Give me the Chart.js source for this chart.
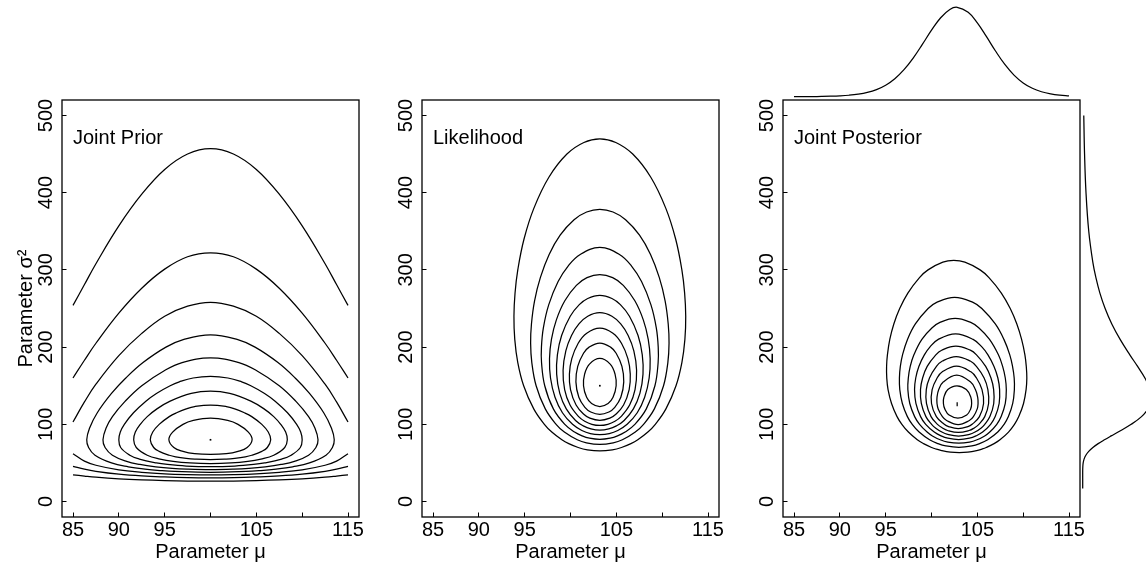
<!DOCTYPE html>
<html><head><meta charset="utf-8">
<script src="https://cdn.jsdelivr.net/npm/chart.js@4.4.1/dist/chart.umd.min.js"></script>
<style>
html,body{margin:0;padding:0;background:#fff;}
#wrap{position:relative;width:1146px;height:569px;overflow:hidden;background:#fff;}
#wrap canvas{position:absolute;left:0;top:0;}
</style></head><body>
<div id="wrap">
<canvas id="cPrior" width="1146" height="569"></canvas>
<canvas id="cLik" width="1146" height="569"></canvas>
<canvas id="cPost" width="1146" height="569"></canvas>
<canvas id="cMargMu" width="1146" height="569"></canvas>
<canvas id="cMargS2" width="1146" height="569"></canvas>
</div>
<script>
// ---------------- tick values / labels ----------------
const muTicks = [85, 90, 95, 100, 105, 110, 115];
const muTickLabels = ['85', '90', '95', '', '105', '', '115'];
const s2Ticks = [0, 100, 200, 300, 400, 500];
const s2TickLabels = ['0', '100', '200', '300', '400', '500'];
const panelTitles = ['Joint Prior', 'Likelihood', 'Joint Posterior'];

// ---------------- Joint prior contours [mu, sigma^2] ----------------
const priorC1Upper = [[85,254],[86.25,281],[87.5,308],[90,357],[92.5,398],[95,430],[97.5,450],[100,457],[102.5,450],[105,430],[107.5,398],[110,357],[112.5,308],[113.75,281],[115,254]];
const priorC1Lower = [[85,34.7],[86.25,33],[87.5,31.5],[90,29.4],[92.5,28.0],[95,27.1],[97.5,26.6],[100,26.5],[102.5,26.6],[105,27.1],[107.5,28.0],[110,29.4],[112.5,31.5],[113.75,33],[115,34.7]];
const priorC2Upper = [[85,160],[86.25,183],[87.5,205],[90,244],[92.5,276.3],[95,301],[97.5,317],[100,322],[102.5,317],[105,301],[107.5,276.3],[110,244],[112.5,205],[113.75,183],[115,160]];
const priorC2Lower = [[85,45.5],[86.25,41.9],[87.5,39.2],[90,35.5],[92.5,33.2],[95,31.9],[97.5,31.05],[100,30.8],[102.5,31.05],[105,31.9],[107.5,33.2],[110,35.5],[112.5,39.2],[113.75,41.9],[115,45.5]];
const priorC3Upper = [[85,103],[86.25,129],[87.5,152],[90,189],[92.5,217.8],[95,240],[97.5,253],[100,258],[102.5,253],[105,240],[107.5,217.8],[110,189],[112.5,152],[113.75,129],[115,103]];
const priorC3Lower = [[85,62],[86.25,52.3],[87.5,47],[90,41],[92.5,37.8],[95,35.8],[97.5,34.8],[100,34.4],[102.5,34.8],[105,35.8],[107.5,37.8],[110,41],[112.5,47],[113.75,52.3],[115,62]];
const priorC4 = [[100,37.9],[103.9,39],[105.3,40],[107.15,42],[108.96,45],[110.8,50],[112.6,60],[113.3,70],[113.5,80],[113.2,95],[112.35,115],[110.8,140],[109.24,160],[107.36,180],[104.86,200],[102.9,210],[100,216],[97.1,210],[95.14,200],[92.64,180],[90.76,160],[89.2,140],[87.65,115],[86.8,95],[86.5,80],[86.7,70],[87.4,60],[89.2,50],[91.04,45],[92.85,42],[94.7,40],[96.1,39]];
const priorC5 = [[100,41.4],[102.55,42],[104.19,43],[105.97,45],[107.7,48],[109.15,52],[110.7,60],[111.5,70],[111.73,80],[111.4,95],[110.7,110],[109.3,130],[107.5,150],[104.96,170],[103.1,180],[100,186],[96.9,180],[95.04,170],[92.5,150],[90.7,130],[89.3,110],[88.6,95],[88.27,80],[88.5,70],[89.3,60],[90.85,52],[92.3,48],[94.03,45],[95.81,43],[97.45,42]];
const priorC6 = [[100,45.2],[102.65,46],[104.7,48],[105.9,50],[107.76,55],[108.8,60],[109.8,70],[110,80],[109.84,90],[109.4,100],[108.4,115],[107.05,130],[105.9,140],[104.4,150],[103.4,155],[101.9,160],[100,162],[98.1,160],[96.6,155],[95.6,150],[94.1,140],[92.95,130],[91.6,115],[90.6,100],[90.16,90],[90,80],[90.2,70],[91.2,60],[92.24,55],[94.1,50],[95.3,48],[97.35,46]];
const priorC7 = [[100,49.2],[102.24,50],[104.07,52],[105.5,55],[106.9,60],[108.1,70],[108.38,80],[108.2,90],[107.66,100],[106.9,110],[105.84,120],[104.4,130],[102.1,140],[100,143],[97.9,140],[95.6,130],[94.16,120],[93.1,110],[92.34,100],[91.8,90],[91.62,80],[91.9,70],[93.1,60],[94.5,55],[95.93,52],[97.76,50]];
const priorC8 = [[100,54.3],[101.7,55],[102.65,56],[103.8,58],[104.5,60],[105.6,65],[106.2,70],[106.57,80],[106.3,90],[105.6,100],[104.5,110],[103.7,115],[102.65,120],[101.73,123],[100,125],[98.27,123],[97.35,120],[96.3,115],[95.5,110],[94.4,100],[93.7,90],[93.43,80],[93.8,70],[94.4,65],[95.5,60],[96.2,58],[97.35,56],[98.3,55]];
const priorC9 = [[100,61],[101.73,62],[103,65],[104,70],[104.54,80],[104.13,90],[103,100],[101.87,105],[100,108],[98.13,105],[97,100],[95.87,90],[95.46,80],[96,70],[97,65],[98.27,62]];
const priorMode = [[100,80]];

// ---------------- Likelihood contours ----------------
const lik1 = [[103.2,65.6],[104.56,67],[105.56,70],[106.59,75],[107.34,80],[108.44,90],[109.25,100],[110.41,120],[111.51,150],[112.15,180],[112.48,210],[112.57,240],[112.45,270],[112.15,300],[111.47,340],[110.39,380],[108.76,420],[106.79,450],[104.94,465],[103.2,469.7],[101.46,465],[99.61,450],[97.64,420],[96.01,380],[94.93,340],[94.25,300],[93.95,270],[93.83,240],[93.92,210],[94.25,180],[94.89,150],[95.99,120],[97.15,100],[97.96,90],[99.06,80],[99.81,75],[100.84,70],[101.84,67]];
const lik2 = [[103.2,73.9],[104.66,76],[105.66,80],[107.07,90],[107.97,100],[109.15,120],[110.15,150],[110.62,180],[110.75,205],[110.66,230],[110.32,260],[109.69,290],[108.73,320],[107.53,345],[106.01,365],[104.64,375],[103.2,378.5],[101.76,375],[100.39,365],[98.87,345],[97.67,320],[96.71,290],[96.08,260],[95.74,230],[95.65,205],[95.78,180],[96.25,150],[97.25,120],[98.43,100],[99.33,90],[100.74,80],[101.74,76]];
const lik3 = [[103.2,80.5],[104.33,82],[105.13,85],[105.96,90],[107.02,100],[108.27,120],[109.21,150],[109.56,180],[109.57,200],[109.36,225],[108.77,255],[107.75,285],[106.66,305],[105.34,320],[103.2,329],[101.06,320],[99.74,305],[98.65,285],[97.63,255],[97.04,225],[96.83,200],[96.84,180],[97.19,150],[98.13,120],[99.38,100],[100.44,90],[101.27,85],[102.07,82]];
const lik4 = [[103.2,86.8],[104.23,88],[105.16,92],[106.18,100],[107.28,115],[108.09,135],[108.58,160],[108.69,185],[108.48,210],[107.95,235],[107.02,260],[105.76,280],[104.6,290],[103.2,294],[101.8,290],[100.64,280],[99.38,260],[98.45,235],[97.92,210],[97.71,185],[97.82,160],[98.31,135],[99.12,115],[100.22,100],[101.24,92],[102.17,88]];
const lik5 = [[103.2,92.4],[104.17,94],[105.01,98],[105.85,105],[106.86,120],[107.57,140],[107.91,165],[107.83,190],[107.37,215],[106.43,240],[105.44,255],[104.52,263],[103.2,267],[101.88,263],[100.96,255],[99.97,240],[99.03,215],[98.57,190],[98.49,165],[98.83,140],[99.54,120],[100.55,105],[101.39,98],[102.23,94]];
const lik6 = [[103.2,98.5],[104.07,100],[104.85,104],[105.51,110],[106.45,125],[107.04,145],[107.21,170],[106.91,195],[106.29,215],[105.48,230],[104.52,240],[103.2,244.5],[101.88,240],[100.92,230],[100.11,215],[99.49,195],[99.19,170],[99.36,145],[99.95,125],[100.89,110],[101.55,104],[102.33,100]];
const lik7 = [[103.2,105.2],[104.29,108],[104.95,113],[105.79,125],[106.4,145],[106.52,165],[106.26,185],[105.56,205],[104.63,218],[103.2,224.5],[101.77,218],[100.84,205],[100.14,185],[99.88,165],[100.0,145],[100.61,125],[101.45,113],[102.11,108]];
const lik8 = [[103.2,112.9],[104.19,116],[104.83,122],[105.49,135],[105.81,155],[105.61,175],[104.98,192],[104.37,200],[103.2,205.3],[102.03,200],[101.42,192],[100.79,175],[100.59,155],[100.91,135],[101.57,122],[102.21,116]];
const lik9 = [[103.2,123],[104.1,127],[104.64,135],[104.98,150],[104.86,165],[104.33,178],[103.2,185.3],[102.07,178],[101.54,165],[101.42,150],[101.76,135],[102.3,127]];
const likMode = [[103.2,150]];

// ---------------- Joint posterior contours ----------------
const post1 = [[103.03,63.4],[103.96,64],[104.92,66],[105.51,68],[105.97,70],[106.83,75],[107.47,80],[108.40,90],[109.05,100],[109.52,110],[110.04,127],[110.32,145],[110.40,160],[110.34,175],[110.19,190],[109.83,210],[109.31,230],[108.59,250],[107.62,270],[106.27,290],[105.30,300],[103.64,310],[102.43,312.2],[101.24,310],[99.62,300],[98.69,290],[97.42,270],[96.53,250],[95.89,230],[95.45,210],[95.19,190],[95.10,175],[95.12,160],[95.26,145],[95.64,127],[96.24,110],[96.77,100],[97.48,90],[98.45,80],[99.13,75],[100.02,70],[100.49,68],[101.10,66],[102.06,64]];
const post2 = [[102.99,70.2],[104.41,72],[105.25,75],[106.13,80],[107.23,90],[107.92,100],[108.39,110],[108.86,127],[109.04,145],[109.02,160],[108.84,175],[108.54,190],[107.90,210],[106.96,230],[105.49,250],[104.53,258],[102.52,264.5],[100.56,258],[99.63,250],[98.24,230],[97.38,210],[96.84,190],[96.60,175],[96.50,160],[96.54,145],[96.82,127],[97.37,110],[97.90,100],[98.65,90],[99.79,80],[100.71,75],[101.57,72]];
const post3 = [[102.98,75.6],[104.15,77],[104.97,80],[105.80,85],[106.36,90],[107.12,100],[107.60,110],[108.05,127],[108.16,145],[108.05,160],[107.76,175],[107.30,190],[106.33,210],[105.15,225],[104.28,232],[102.58,237.1],[100.92,232],[100.07,225],[98.95,210],[98.08,190],[97.68,175],[97.47,160],[97.42,145],[97.63,127],[98.16,110],[98.70,100],[99.52,90],[100.10,85],[100.95,80],[101.79,77]];
const post4 = [[102.96,80.3],[104.14,82],[104.85,85],[105.58,90],[106.45,100],[106.95,110],[107.38,127],[107.43,145],[107.24,160],[106.82,175],[106.16,190],[105.52,200],[104.54,210],[102.63,217.2],[100.74,210],[99.82,200],[99.22,190],[98.62,175],[98.28,160],[98.15,145],[98.30,127],[98.81,110],[99.37,100],[100.30,90],[101.05,85],[101.78,82]];
const post5 = [[102.95,84.85],[104.14,87],[104.75,90],[105.39,95],[105.81,100],[106.37,110],[106.79,127],[106.78,145],[106.49,160],[105.91,175],[104.91,190],[104.23,196],[102.66,201.3],[101.11,196],[100.47,190],[99.53,175],[99.03,160],[98.80,145],[98.89,127],[99.39,110],[100.01,100],[100.47,95],[101.13,90],[101.76,87]];
const post6 = [[102.93,89.6],[104.10,92],[104.62,95],[105.17,100],[105.81,110],[106.23,127],[106.15,145],[105.74,160],[104.90,175],[104.23,182],[102.69,187.7],[101.19,182],[100.54,175],[99.78,160],[99.43,145],[99.45,127],[99.95,110],[100.65,100],[101.22,95],[101.76,92]];
const post7 = [[102.92,94.6],[103.97,97],[104.43,100],[105.23,110],[105.68,127],[105.51,145],[104.91,160],[104.30,168],[102.72,175.4],[101.18,168],[100.61,160],[100.07,145],[100.00,127],[100.53,110],[101.39,100],[101.87,97]];
const post8 = [[102.91,99.7],[104.13,105],[104.57,110],[104.99,120],[105.08,127],[105.04,135],[104.79,145],[104.24,155],[102.75,163.7],[101.30,155],[100.79,145],[100.60,135],[100.60,127],[100.73,120],[101.19,110],[101.65,105]];
const post9 = [[102.88,108.2],[103.84,112],[104.27,120],[104.38,127],[104.29,135],[103.80,145],[102.78,149.9],[101.78,145],[101.35,135],[101.30,127],[101.45,120],[101.92,112]];
const postMode = [[102.8,123.5],[102.8,128.7]];

// ---------------- Marginal posteriors (relative density) ----------------
const margMuValues = [85,86,87,88,89,90,91,92,93,94,95,96,97,98,99,100,101,102,102.8,104,105,106,107,108,109,110,111,112,113,114,115];
const margMuDensity = [0.0005,0.0009,0.0016,0.0029,0.0052,0.0092,0.0162,0.0282,0.0479,0.0797,0.1287,0.2013,0.3021,0.4317,0.5844,0.7438,0.8834,0.9758,1.0,0.9443,0.8267,0.6715,0.5083,0.3608,0.2417,0.1540,0.0939,0.0551,0.0315,0.0175,0.0095];
const margS2Values = [17,30,40,45,50,55,60,65,70,75,80,85,90,100,110,120,127,135,145,160,175,190,210,230,250,270,290,310,350,400,450,500];
const margS2Density = [0,0,0.0001,0.0018,0.0069,0.0199,0.0456,0.0877,0.148,0.225,0.316,0.414,0.515,0.705,0.855,0.950,0.987,1.0,0.980,0.904,0.798,0.685,0.544,0.423,0.326,0.250,0.192,0.147,0.088,0.048,0.027,0.0156];

// ---------------- layout / style (not data) ----------------
const CANVAS_W = 1146, CANVAS_H = 569;
const PANEL_LEFTS = [62, 422, 783];
const PANEL_W = 297, PANEL_TOP = 100, PANEL_BOTTOM = 517, Y_AXIS_W = 50;
const MU_MIN = 83.8, MU_MAX = 116.2, S2_MIN = -20, S2_MAX = 520;
const LABEL_MU = 85, LABEL_S2 = 470;
const LINE_W = 1.25;
const FONT_FAMILY = '"Liberation Sans", Arial, Helvetica, sans-serif';
const FONT = {family: FONT_FAMILY, size: 20};

Chart.defaults.font.family = FONT_FAMILY;
Chart.defaults.color = '#000';

function toXY(arr) { return arr.map(p => ({x: p[0], y: p[1]})); }
function lineDs(arr, closed) {
  return {data: toXY(arr), closed: !!closed, borderColor: '#000', borderWidth: LINE_W,
          pointRadius: 0, pointHoverRadius: 0, tension: 0.4, fill: false, clip: false};
}
function dotDs(arr) {
  return {data: toXY(arr), showLine: false, pointRadius: 1.2, pointBorderWidth: 0,
          pointBackgroundColor: '#000', pointStyle: 'rect', clip: false};
}

// closes contour loops smoothly using the line element's own loop support
const loopPlugin = {
  id: 'closedLoops',
  afterDatasetUpdate(chart, args) {
    const ds = chart.data.datasets[args.index];
    const line = args.meta.dataset;
    if (ds && ds.closed && line) {
      line._loop = true;
      line._fullLoop = true;
      line._pointsUpdated = false;
      delete line._segments;
      delete line._path;
    }
  }
};
const framePlugin = {
  id: 'panelFrame',
  afterDraw(chart) {
    const {ctx, chartArea: a} = chart;
    ctx.save();
    ctx.strokeStyle = '#000';
    ctx.lineWidth = 1.3;
    ctx.strokeRect(a.left, a.top, a.right - a.left, a.bottom - a.top);
    ctx.restore();
  }
};
const labelPlugin = {
  id: 'panelLabel',
  afterDraw(chart, args, opts) {
    if (!opts || !opts.text) return;
    const {ctx, scales} = chart;
    ctx.save();
    ctx.font = FONT.size + 'px ' + FONT_FAMILY;
    ctx.fillStyle = '#000';
    ctx.textAlign = 'left';
    ctx.textBaseline = 'middle';
    ctx.fillText(opts.text, scales.x.getPixelForValue(LABEL_MU), scales.y.getPixelForValue(LABEL_S2));
    ctx.restore();
  }
};

function axisGrid() {
  return {display: true, drawOnChartArea: false, drawTicks: true, tickLength: -4.5, color: '#000', lineWidth: 1};
}

function makePanel(id, idx, closedSets, openSets, dotSet, dashSet, showYTitle) {
  const left = PANEL_LEFTS[idx];
  const datasets = [];
  openSets.forEach(a => datasets.push(lineDs(a, false)));
  closedSets.forEach(a => datasets.push(lineDs(a, true)));
  if (dotSet) datasets.push(dotDs(dotSet));
  if (dashSet) { const d = lineDs(dashSet, false); d.tension = 0; datasets.push(d); }
  return new Chart(document.getElementById(id), {
    type: 'line',
    data: {datasets},
    options: {
      responsive: false, animation: false, events: [],
      layout: {padding: {left: left - Y_AXIS_W, right: CANVAS_W - left - PANEL_W, top: PANEL_TOP, bottom: 0}},
      plugins: {legend: {display: false}, tooltip: {enabled: false}, panelLabel: {text: panelTitles[idx]}},
      scales: {
        x: {
          type: 'linear', min: MU_MIN, max: MU_MAX,
          afterBuildTicks: ax => { ax.ticks = muTicks.map(v => ({value: v})); },
          afterFit: ax => { ax.height = CANVAS_H - PANEL_BOTTOM; },
          ticks: {autoSkip: false, maxRotation: 0, minRotation: 0, padding: 5.5, color: '#000', font: FONT,
                  callback: (v, i) => muTickLabels[i]},
          grid: axisGrid(),
          border: {display: false},
          title: {display: true, text: 'Parameter μ', color: '#000', font: FONT, padding: {top: 0, bottom: 5}}
        },
        y: {
          type: 'linear', min: S2_MIN, max: S2_MAX,
          afterBuildTicks: ax => { ax.ticks = s2Ticks.map(v => ({value: v})); },
          afterFit: ax => { ax.width = Y_AXIS_W; },
          ticks: {autoSkip: false, minRotation: 90, maxRotation: 90, crossAlign: 'center', padding: 3,
                  color: '#000', font: FONT, callback: (v, i) => s2TickLabels[i]},
          grid: axisGrid(),
          border: {display: false},
          title: {display: showYTitle, text: 'Parameter σ²', color: '#000', font: FONT, padding: {top: 2.5, bottom: 0}}
        }
      }
    },
    plugins: [loopPlugin, framePlugin, labelPlugin]
  });
}

makePanel('cPrior', 0,
  [priorC4, priorC5, priorC6, priorC7, priorC8, priorC9],
  [priorC1Upper, priorC1Lower, priorC2Upper, priorC2Lower, priorC3Upper, priorC3Lower],
  priorMode, null, true);
makePanel('cLik', 1,
  [lik1, lik2, lik3, lik4, lik5, lik6, lik7, lik8, lik9], [], likMode, null, false);
makePanel('cPost', 2,
  [post1, post2, post3, post4, post5, post6, post7, post8, post9], [], null, postMode, false);

// top marginal: posterior of mu (shares the mu scale of the posterior panel)
const MARG_MU_TOP = 7.3, MARG_MU_BASE = 96.7;
new Chart(document.getElementById('cMargMu'), {
  type: 'line',
  data: {datasets: [lineDs(margMuValues.map((m, i) => [m, margMuDensity[i]]), false)]},
  options: {
    responsive: false, animation: false, events: [],
    layout: {padding: {left: PANEL_LEFTS[2], right: CANVAS_W - PANEL_LEFTS[2] - PANEL_W, top: MARG_MU_TOP, bottom: CANVAS_H - MARG_MU_BASE}},
    plugins: {legend: {display: false}, tooltip: {enabled: false}},
    elements: {line: {capBezierPoints: false}},
    scales: {
      x: {type: 'linear', display: false, min: MU_MIN, max: MU_MAX},
      y: {type: 'linear', display: false, min: 0, max: 1}
    }
  }
});

// right marginal: posterior of sigma^2 (shares the sigma^2 scale)
const MARG_S2_BASE = 1082.7, MARG_S2_XMAX = 0.92;
new Chart(document.getElementById('cMargS2'), {
  type: 'line',
  data: {datasets: [lineDs(margS2Values.map((s, i) => [margS2Density[i], s]), false)]},
  options: {
    responsive: false, animation: false, events: [],
    layout: {padding: {left: MARG_S2_BASE, right: 0, top: PANEL_TOP, bottom: CANVAS_H - PANEL_BOTTOM}},
    plugins: {legend: {display: false}, tooltip: {enabled: false}},
    elements: {line: {capBezierPoints: false}},
    scales: {
      x: {type: 'linear', display: false, min: 0, max: MARG_S2_XMAX},
      y: {type: 'linear', display: false, min: S2_MIN, max: S2_MAX}
    }
  }
});
</script>
</body></html>
